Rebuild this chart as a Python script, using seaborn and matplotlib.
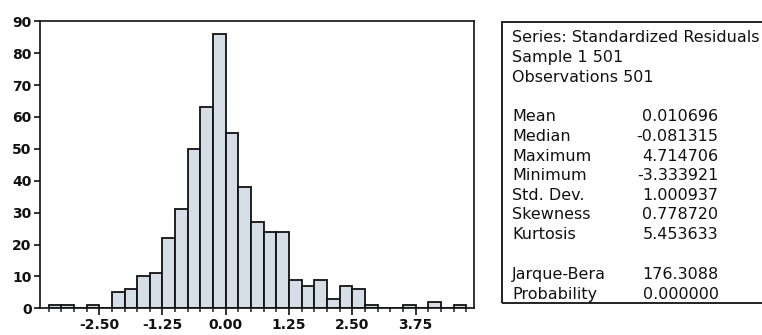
import numpy as np
import pandas as pd
import seaborn as sns
import matplotlib
matplotlib.use("Agg")
import matplotlib.pyplot as plt
from matplotlib.patches import Rectangle
from matplotlib.ticker import FixedLocator, FixedFormatter

# Histogram bins of standardized residuals (left edges, width 0.25) and counts
bin_left = [-3.50, -3.25, -3.00, -2.75, -2.50, -2.25, -2.00, -1.75, -1.50, -1.25,
            -1.00, -0.75, -0.50, -0.25, 0.00, 0.25, 0.50, 0.75, 1.00, 1.25,
            1.50, 1.75, 2.00, 2.25, 2.50, 2.75, 3.00, 3.25, 3.50, 3.75,
            4.00, 4.25, 4.50]
counts = [1, 1, 0, 1, 0, 5, 6, 10, 11, 22,
          31, 50, 63, 86, 55, 38, 27, 24, 24, 9,
          7, 9, 3, 7, 6, 1, 0, 0, 1, 0,
          2, 0, 1]
bin_width = 0.25

x_ticks = [-2.50, -1.25, 0.00, 1.25, 2.50, 3.75]
x_tick_labels = ["-2.50", "-1.25", "0.00", "1.25", "2.50", "3.75"]
y_ticks = [0, 10, 20, 30, 40, 50, 60, 70, 80, 90]

# Descriptive statistics panel
stat_header = ["Series: Standardized Residuals", "Sample 1 501", "Observations 501"]
stat_names = ["Mean", "Median", "Maximum", "Minimum", "Std. Dev.", "Skewness", "Kurtosis"]
stat_values = ["0.010696", "-0.081315", "4.714706", "-3.333921", "1.000937", "0.778720", "5.453633"]
test_names = ["Jarque-Bera", "Probability"]
test_values = ["176.3088", "0.000000"]

sns.set_theme(style="white")
plt.rcParams["font.family"] = ["DejaVu Sans"]

W, H = 762, 335
fig = plt.figure(figsize=(W / 100, H / 100), dpi=100)
fig.patch.set_facecolor("white")

def fx(px):
    return px / W

def fy(py):
    return 1 - py / H

ax = fig.add_axes([fx(40), fy(308.3), fx(474.3) - fx(40), fy(21.3) - fy(308.3)])

df = pd.DataFrame({"center": np.array(bin_left) + bin_width / 2, "count": counts})
lo = bin_left[0]
hi = bin_left[-1] + bin_width
sns.histplot(data=df, x="center", weights="count", binwidth=bin_width,
             binrange=(lo, hi), ax=ax,
             color="#d5dde6", edgecolor="#111111", linewidth=1.3, alpha=1.0)

ax.set_xlim(-3.67, 4.91)
ax.set_ylim(0, 90)
ax.set_xlabel("")
ax.set_ylabel("")

edges = [lo + i * bin_width for i in range(len(bin_left) + 1)]
ax.xaxis.set_major_locator(FixedLocator(x_ticks))
ax.xaxis.set_major_formatter(FixedFormatter(x_tick_labels))
ax.xaxis.set_minor_locator(FixedLocator(edges))
ax.set_yticks(y_ticks)
ax.set_yticklabels([str(v) for v in y_ticks])

ax.tick_params(axis="x", which="major", direction="out", length=5, width=1.2,
               color="#111111", labelsize=10, labelcolor="#111111", pad=2, bottom=True)
ax.tick_params(axis="x", which="minor", direction="out", length=3, width=1.2,
               color="#333333", bottom=True)
ax.tick_params(axis="y", which="major", direction="out", length=4, width=1.2,
               color="#111111", labelsize=10, labelcolor="#111111", pad=2, left=True)
for lab in ax.get_xticklabels() + ax.get_yticklabels():
    lab.set_fontweight("bold")

for side in ["left", "right", "top", "bottom"]:
    ax.spines[side].set_visible(True)
    ax.spines[side].set_color("#111111")
    ax.spines[side].set_linewidth(1.2)

# Statistics box (open on the right side)
box = Rectangle((fx(501.7), fy(302.7)), fx(800) - fx(501.7), fy(22) - fy(302.7),
                transform=fig.transFigure, fill=False, edgecolor="#111111",
                linewidth=1.3, clip_on=False)
fig.patches.append(box)

text_kw = dict(fontsize=11.5, color="#111111", va="center")
label_x = fx(512)
value_x = fx(718.5)
line_step = 19.55

y0 = 38
for i, t in enumerate(stat_header):
    fig.text(label_x, fy(y0 + i * line_step), t, ha="left", **text_kw)

y1 = 117
for i, (n, v) in enumerate(zip(stat_names, stat_values)):
    fig.text(label_x, fy(y1 + i * line_step), n, ha="left", **text_kw)
    fig.text(value_x, fy(y1 + i * line_step), v, ha="right", **text_kw)

y2 = 274.5
for i, (n, v) in enumerate(zip(test_names, test_values)):
    fig.text(label_x, fy(y2 + i * line_step), n, ha="left", **text_kw)
    fig.text(value_x, fy(y2 + i * line_step), v, ha="right", **text_kw)

fig.savefig("out.png", dpi=100, facecolor="white")
